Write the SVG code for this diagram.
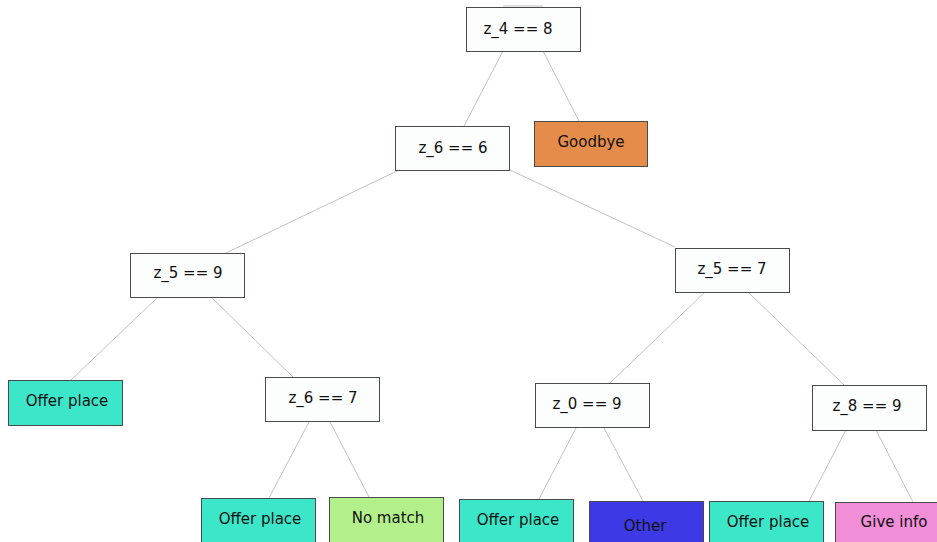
<svg xmlns="http://www.w3.org/2000/svg" width="937" height="542" viewBox="0 0 937 542">
<style>
.n rect{stroke:#4a4a4a;stroke-width:1;}
.n text{font-family:"DejaVu Sans",sans-serif;font-size:15px;fill:#111;text-anchor:middle;}
.d rect{fill:#fcfefe;}
.offer rect{fill:#3ce6c8;}
#edges line{stroke:#b4b4b4;stroke-width:0.8;}
</style>
<rect width="937" height="542" fill="#ffffff"/>
<g id="edges">
<line x1="503" y1="6" x2="543" y2="6"/>
<line x1="503" y1="51" x2="464" y2="126"/>
<line x1="543" y1="51" x2="579" y2="121"/>
<line x1="397" y1="171" x2="226" y2="253"/>
<line x1="510" y1="170" x2="675" y2="247"/>
<line x1="158" y1="297" x2="71" y2="380"/>
<line x1="211" y1="297" x2="293" y2="377"/>
<line x1="705" y1="292" x2="610" y2="383"/>
<line x1="748" y1="292" x2="844" y2="385"/>
<line x1="309" y1="422" x2="269" y2="498"/>
<line x1="330" y1="422" x2="369" y2="497"/>
<line x1="576" y1="428" x2="539" y2="499"/>
<line x1="604" y1="428" x2="643" y2="501"/>
<line x1="846" y1="430" x2="809" y2="501"/>
<line x1="876" y1="430" x2="913" y2="502"/>
</g>
<g id="n_z4" class="n d"><rect x="466.5" y="7.5" width="114" height="44"/><text x="518" y="34">z_4 == 8</text></g>
<g id="n_goodbye" class="n"><rect x="534.5" y="121.5" width="113" height="45" fill="#e68c4b"/><text x="591" y="147">Goodbye</text></g>
<g id="n_z6a" class="n d"><rect x="395.5" y="126.5" width="114" height="44"/><text x="453" y="153">z_6 == 6</text></g>
<g id="n_z5a" class="n d"><rect x="130.5" y="253.5" width="114" height="44"/><text x="188" y="278">z_5 == 9</text></g>
<g id="n_z5b" class="n d"><rect x="675.5" y="248.5" width="114" height="44"/><text x="732" y="274">z_5 == 7</text></g>
<g id="n_offer1" class="n offer"><rect x="8.5" y="380.5" width="114" height="45"/><text x="67" y="406">Offer place</text></g>
<g id="n_z6b" class="n d"><rect x="265.5" y="377.5" width="114" height="44"/><text x="323" y="403">z_6 == 7</text></g>
<g id="n_z0" class="n d"><rect x="535.5" y="383.5" width="114" height="44"/><text x="587" y="409">z_0 == 9</text></g>
<g id="n_z8" class="n d"><rect x="812.5" y="385.5" width="114" height="45"/><text x="867" y="411">z_8 == 9</text></g>
<g id="n_offer2" class="n offer"><rect x="201.5" y="498.5" width="114" height="48"/><text x="260" y="524">Offer place</text></g>
<g id="n_nomatch" class="n"><rect x="329.5" y="497.5" width="114" height="48" fill="#b3f08c"/><text x="388" y="523">No match</text></g>
<g id="n_offer3" class="n offer"><rect x="459.5" y="499.5" width="114" height="48"/><text x="518" y="525">Offer place</text></g>
<g id="n_other" class="n"><rect x="589.5" y="501.5" width="114" height="48" fill="#3e39e6"/><text x="645" y="531">Other</text></g>
<g id="n_offer4" class="n offer"><rect x="709.5" y="501.5" width="114" height="48"/><text x="768" y="527">Offer place</text></g>
<g id="n_giveinfo" class="n"><rect x="835.5" y="502.5" width="114" height="48" fill="#f08fd8"/><text x="894" y="527">Give info</text></g>
</svg>
